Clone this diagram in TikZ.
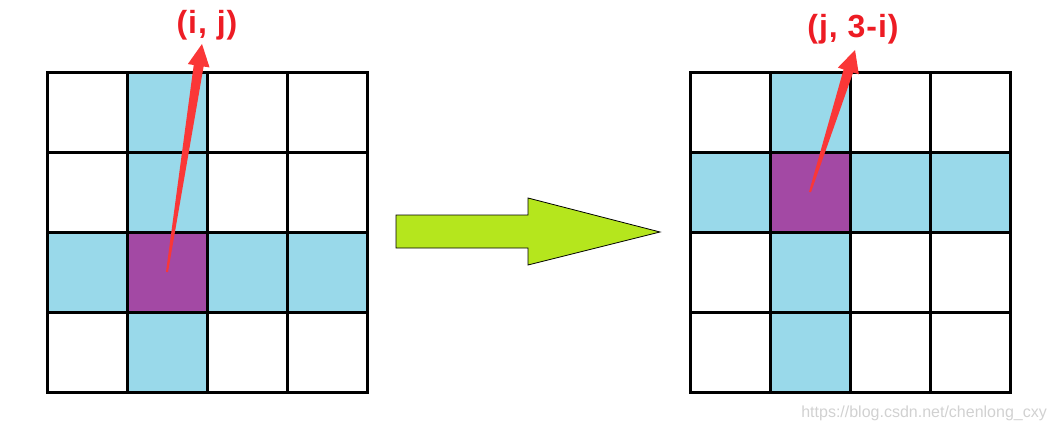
\documentclass[tikz,border=0pt]{standalone}
\usepackage{fontspec}
\setmainfont{Liberation Sans}
\usetikzlibrary{calc}

\definecolor{cellblue}{RGB}{153,217,234}
\definecolor{cellpurple}{RGB}{163,73,164}
\definecolor{arrowgreen}{RGB}{181,230,29}
\definecolor{markred}{RGB}{250,55,55}
\definecolor{labelred}{RGB}{237,28,36}

% tapered red pointer from #1 (base) to #2 (tip)
\newcommand{\taper}[2]{%
  \coordinate (neck) at ($(#2)!22pt!(#1)$);
  \fill[markred] ($(#1)!1pt!90:(#2)$) -- ($(neck)!5pt!90:(#2)$) -- ($(neck)!11pt!90:(#2)$)
    -- (#2) -- ($(neck)!11pt!-90:(#2)$) -- ($(neck)!5pt!-90:(#2)$) -- ($(#1)!1pt!-90:(#2)$) -- cycle;}

\begin{document}
\begin{tikzpicture}[
  x=1pt, y=-1pt,
  cell/.style={draw, line width=3pt, minimum size=80pt, inner sep=0pt, outer sep=0pt},
  lab/.style={text=labelred, font=\fontsize{32}{38}\selectfont\bfseries\addfontfeature{LetterSpace=3}},
  bigarrow/.style={draw, line width=0.8pt, fill=arrowgreen, line join=miter},
  wmark/.style={text=black!18, font=\fontsize{16}{19}\selectfont, inner sep=0pt}
]
\useasboundingbox (0,0) rectangle (1056,428);

% the two grids
\foreach \r in {0,...,3}
  \foreach \c in {0,...,3} {
    \def\lfill{white}\def\rfill{white}
    \ifnum\c=1 \def\lfill{cellblue}\def\rfill{cellblue}\fi
    \ifnum\r=2 \def\lfill{cellblue}\fi
    \ifnum\r=1 \def\rfill{cellblue}\fi
    \ifnum\c=1 \ifnum\r=2 \def\lfill{cellpurple}\fi \ifnum\r=1 \def\rfill{cellpurple}\fi \fi
    \node[cell, fill=\lfill] (l\r\c) at ({87+80*\c},{112+80*\r}) {};
    \node[cell, fill=\rfill] (r\r\c) at ({730+80*\c},{112+80*\r}) {};
  }

% labels and pointers
\node[lab] (lij) at (207,25) {(i, j)};
\node[lab] (rji) at (853,29) {(j, 3-i)};
\coordinate (ltip) at (202,44);
\coordinate (rtip) at (855,50);
\taper{l21.center}{ltip}
\taper{r11.center}{rtip}

% big green arrow
\draw[bigarrow] (396,215) -- (528,215) -- (528,198) -- (660,232) -- (528,265) -- (528,248) -- (396,248) -- cycle;

\node[wmark, anchor=south east] (wm) at (1047,421) {https://blog.csdn.net/chenlong\_cxy};
\end{tikzpicture}
\end{document}
